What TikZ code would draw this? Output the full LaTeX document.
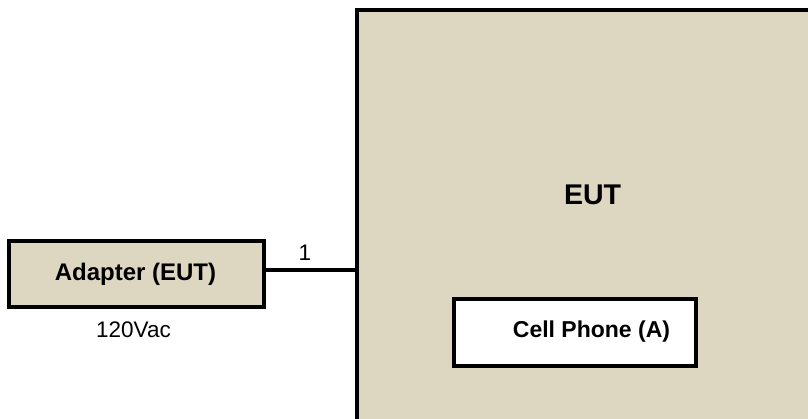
\documentclass[tikz,border=0pt]{standalone}
\usepackage{fontspec}
\setmainfont{Liberation Sans}
\definecolor{boxfill}{RGB}{221,215,193}
\begin{document}
\begin{tikzpicture}[x=1pt,y=-1pt,
  unit/.style={draw=black,line width=3.5pt,fill=boxfill},
  whitebox/.style={draw=black,line width=3.5pt,fill=white},
  lbl/.style={inner sep=0pt,font=\bfseries},
  note/.style={inner sep=0pt}]
  \useasboundingbox (0,0) rectangle (808,418);
  \clip (0,0) rectangle (808,418);
  % equipment under test (runs past the page edges)
  \draw[unit] (357,10) rectangle (830,440);
  \coordinate (eutleft) at (357,270);
  \node[lbl,font=\fontsize{28.5}{32}\bfseries\selectfont] (eut) at (592.5,194.5) {EUT};
  % power adapter
  \node[unit,minimum width=255,minimum height=66,inner sep=0pt] (adapter) at (136.5,274) {};
  \node[lbl,font=\fontsize{24}{28}\bfseries\selectfont] (adaptertxt) at (135.5,274) {Adapter (EUT)};
  \node[note,font=\fontsize{22.5}{26}\selectfont] (vac) at (133.5,329.5) {120Vac};
  % support equipment inside the EUT
  \node[whitebox,minimum width=242,minimum height=67,inner sep=0pt] (phone) at (575,332.5) {};
  \node[lbl,font=\fontsize{23}{27}\selectfont\bfseries] (phonetxt) at (591.5,331.5) {Cell Phone (A)};
  % cable 1
  \draw[line width=3.5pt] (adapter.east |- eutleft) -- (eutleft);
  \node[note,font=\fontsize{22.5}{26}\selectfont] (c1) at (305,253) {1};
\end{tikzpicture}
\end{document}
